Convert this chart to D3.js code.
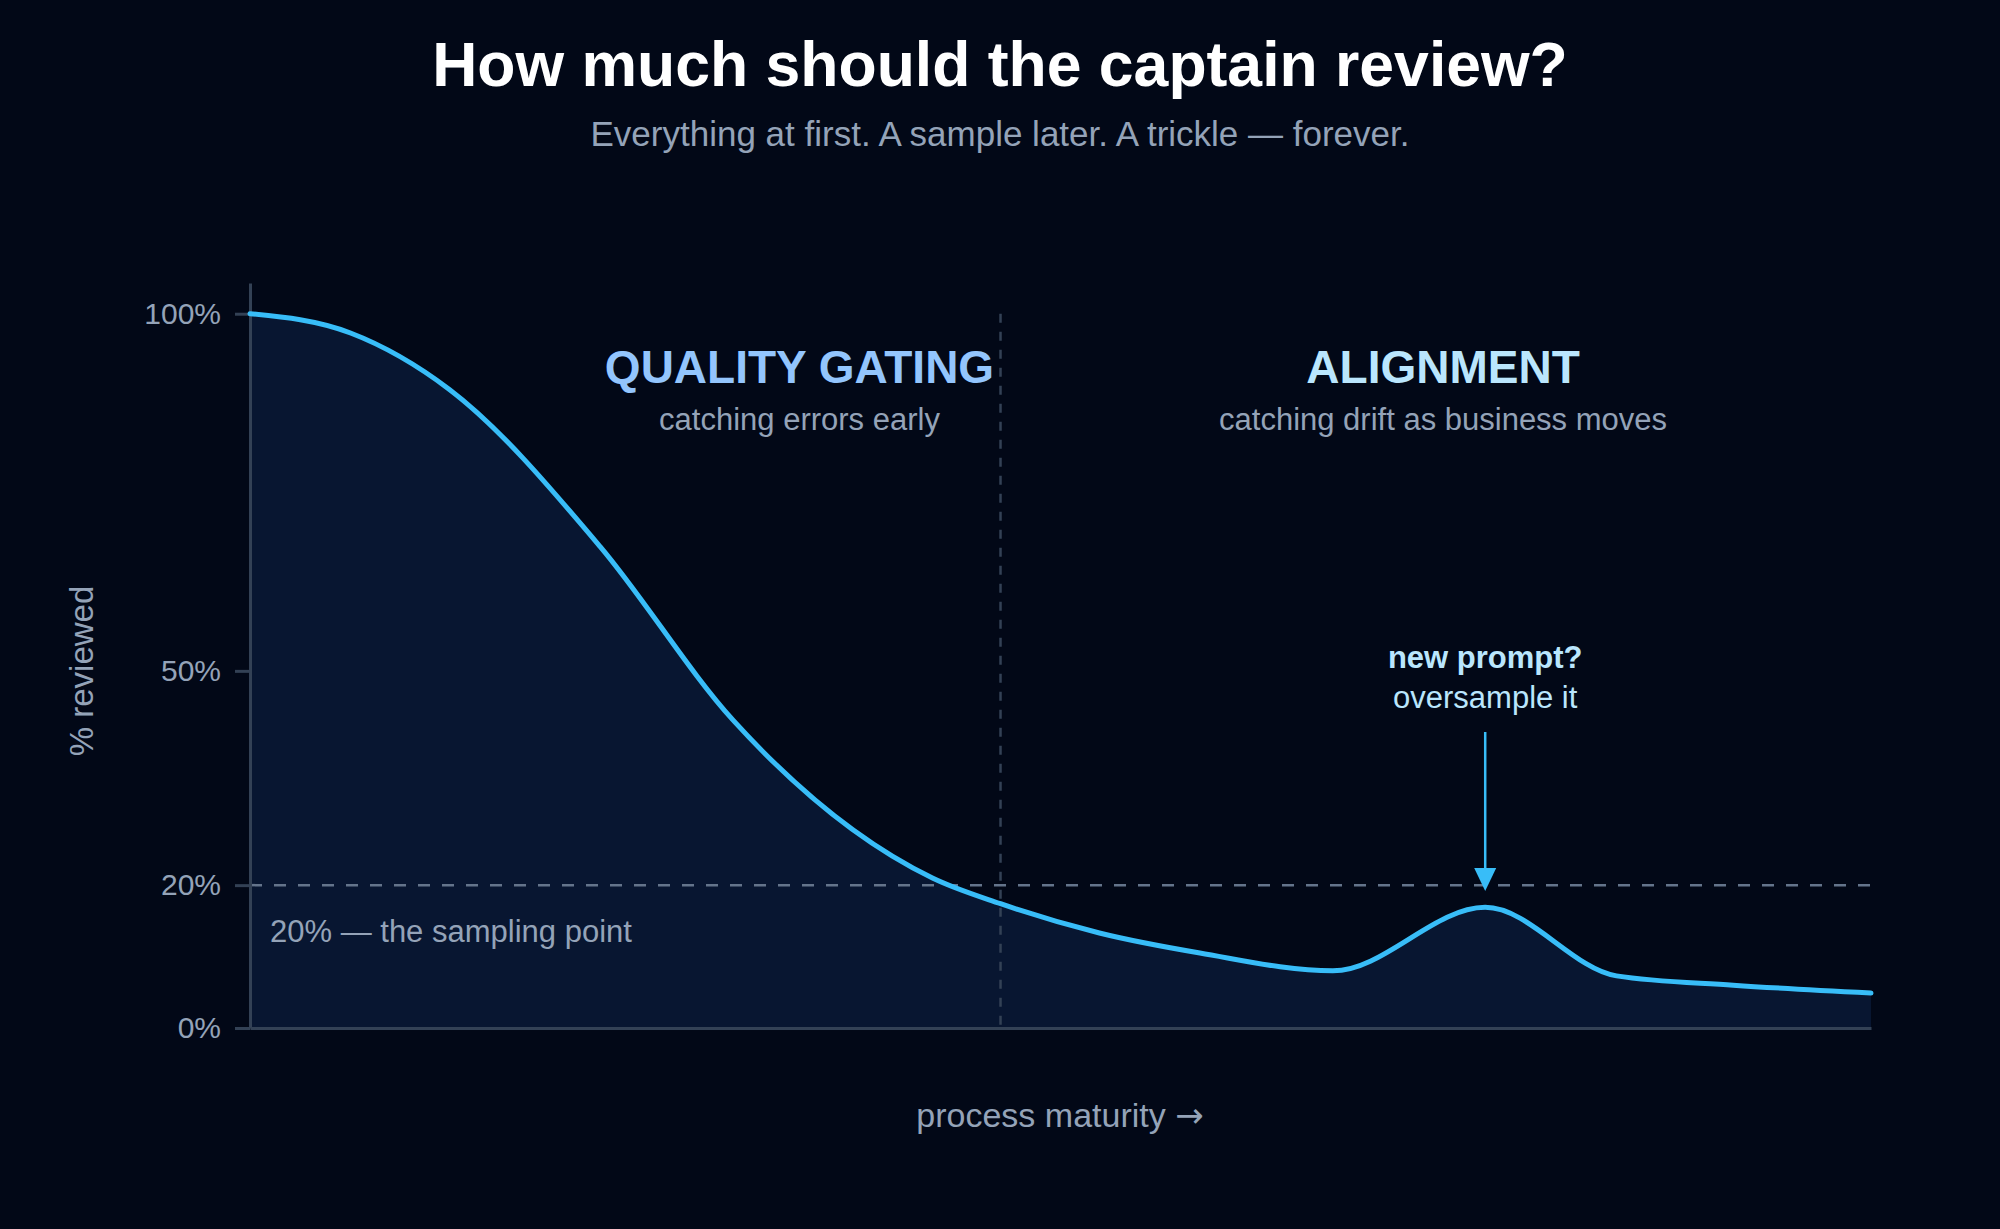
<!DOCTYPE html>
<html>
<head>
<meta charset="utf-8">
<script src="https://cdn.jsdelivr.net/npm/d3@7"></script>
<style>
  html, body { margin: 0; padding: 0; background: #020817; }
  svg { display: block; }
  text { font-family: "Liberation Sans", Arial, Helvetica, sans-serif; }
</style>
</head>
<body>
<svg id="chart" width="2000" height="1229"></svg>
<script>
// ---- data ----
const maturity = [0, 6.2, 12.3, 21.6, 29.8, 42.1, 46.3, 52.4, 58.6, 66.8, 76.2, 84.3, 91.5, 100];
const reviewed = [100, 97.3, 89.4, 67.4, 43.1, 21.0, 17.4, 13.3, 10.5, 8.0, 16.9, 7.3, 6.0, 4.9];
const tickValues = [0, 20, 50, 100];
const tickLabels = ["0%", "20%", "50%", "100%"];
const samplingPoint = 20;
const phaseBoundary = 46.3;
const promptSpike = 76.2;
const phases = [
  { name: "QUALITY GATING", sub: "catching errors early", at: 33.9, color: "#93c5fd" },
  { name: "ALIGNMENT", sub: "catching drift as business moves", at: 73.6, color: "#bae6fd" }
];

const data = maturity.map((m, i) => ({ x: m, y: reviewed[i] }));

// ---- layout ----
const svg = d3.select("#chart");
svg.append("rect").attr("width", 2000).attr("height", 1229).attr("fill", "#020817");

const x = d3.scaleLinear().domain([0, 100]).range([250, 1871]);
const y = d3.scaleLinear().domain([0, 104.3]).range([1028, 283]);

// title
svg.append("text").attr("x", 1000).attr("y", 86).attr("text-anchor", "middle")
  .attr("fill", "#ffffff").attr("font-size", 62.5).attr("font-weight", "bold")
  .text("How much should the captain review?");
svg.append("text").attr("x", 1000).attr("y", 146).attr("text-anchor", "middle")
  .attr("fill", "#94a3b8").attr("font-size", 35)
  .text("Everything at first. A sample later. A trickle — forever.");

// area + line
const area = d3.area().x(d => x(d.x)).y0(y(0)).y1(d => y(d.y)).curve(d3.curveMonotoneX);
const line = d3.line().x(d => x(d.x)).y(d => y(d.y)).curve(d3.curveMonotoneX);

svg.append("path").datum(data).attr("d", area).attr("fill", "#081631");

// phase divider
svg.append("line")
  .attr("x1", x(phaseBoundary)).attr("x2", x(phaseBoundary))
  .attr("y1", y(100)).attr("y2", y(0))
  .attr("stroke", "#334155").attr("stroke-width", 2.5).attr("stroke-dasharray", "9,9");

// 20% line
svg.append("line")
  .attr("x1", x(0)).attr("x2", x(100))
  .attr("y1", y(samplingPoint)).attr("y2", y(samplingPoint))
  .attr("stroke", "#64748b").attr("stroke-width", 2.5).attr("stroke-dasharray", "12,12");

svg.append("text").attr("x", x(0) + 20).attr("y", 942)
  .attr("fill", "#94a3b8").attr("font-size", 31)
  .text("20% — the sampling point");

// axes
const yAxis = d3.axisLeft(y).tickValues(tickValues)
  .tickFormat((d, i) => tickLabels[i]).tickSize(15).tickSizeOuter(0).tickPadding(14);
const gy = svg.append("g").attr("transform", `translate(${x(0)},0)`).call(yAxis);
gy.select(".domain").attr("stroke", "#334155").attr("stroke-width", 3);
gy.selectAll(".tick line").attr("stroke", "#334155").attr("stroke-width", 3);
gy.selectAll(".tick text").attr("fill", "#94a3b8").attr("font-size", 30)
  .attr("font-family", "'Liberation Sans', Arial, Helvetica, sans-serif");

const xAxis = d3.axisBottom(x).tickValues([]).tickSizeOuter(0);
const gx = svg.append("g").attr("transform", `translate(0,${y(0)})`).call(xAxis);
gx.select(".domain").attr("stroke", "#334155").attr("stroke-width", 3);

// curve line
svg.append("path").datum(data).attr("d", line)
  .attr("fill", "none").attr("stroke", "#38bdf8").attr("stroke-width", 5)
  .attr("stroke-linecap", "round").attr("stroke-linejoin", "round");

// phase labels
phases.forEach(p => {
  svg.append("text").attr("x", x(p.at)).attr("y", 383).attr("text-anchor", "middle")
    .attr("fill", p.color).attr("font-size", 46).attr("font-weight", "bold").text(p.name);
  svg.append("text").attr("x", x(p.at)).attr("y", 430).attr("text-anchor", "middle")
    .attr("fill", "#94a3b8").attr("font-size", 31).text(p.sub);
});

// annotation
const ax = x(promptSpike);
svg.append("text").attr("x", ax).attr("y", 668).attr("text-anchor", "middle")
  .attr("fill", "#bae6fd").attr("font-size", 31).attr("font-weight", "bold").text("new prompt?");
svg.append("text").attr("x", ax).attr("y", 708).attr("text-anchor", "middle")
  .attr("fill", "#bae6fd").attr("font-size", 31).text("oversample it");
svg.append("line").attr("x1", ax).attr("x2", ax).attr("y1", 732).attr("y2", 872)
  .attr("stroke", "#38bdf8").attr("stroke-width", 2.5);
svg.append("path")
  .attr("d", `M${ax - 11},868 L${ax + 11},868 L${ax},891 Z`)
  .attr("fill", "#38bdf8");

// axis titles
svg.append("text").attr("transform", "translate(93,671) rotate(-90)")
  .attr("text-anchor", "middle").attr("fill", "#94a3b8").attr("font-size", 33)
  .text("% reviewed");
const xt = svg.append("text").attr("x", 1060).attr("y", 1127).attr("text-anchor", "middle")
  .attr("fill", "#94a3b8").attr("font-size", 34);
xt.append("tspan").text("process maturity ");
xt.append("tspan").attr("font-family", "'DejaVu Sans', sans-serif").attr("font-size", 34).text("→");
</script>
</body>
</html>
